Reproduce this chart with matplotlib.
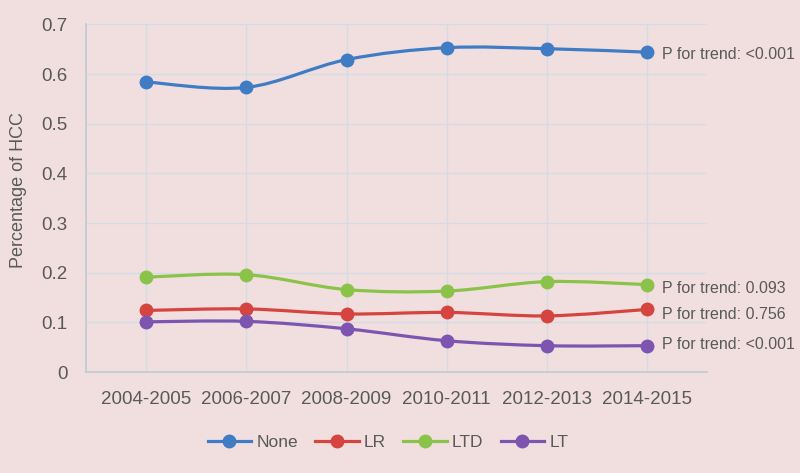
import numpy as np
import matplotlib.pyplot as plt
from matplotlib.path import Path
from matplotlib.patches import PathPatch
from matplotlib.lines import Line2D

plt.rcParams['font.family'] = ['Liberation Sans', 'DejaVu Sans']

periods = ['2004-2005', '2006-2007', '2008-2009', '2010-2011', '2012-2013', '2014-2015']
none_vals = [0.584, 0.573, 0.629, 0.653, 0.651, 0.644]
lr_vals = [0.124, 0.127, 0.117, 0.120, 0.113, 0.126]
ltd_vals = [0.191, 0.196, 0.166, 0.163, 0.182, 0.176]
lt_vals = [0.101, 0.102, 0.087, 0.063, 0.053, 0.053]
series_names = ['None', 'LR', 'LTD', 'LT']
p_trend = ['P for trend: <0.001', 'P for trend: 0.756', 'P for trend: 0.093', 'P for trend: <0.001']

colors = ['#3f7cc4', '#d5443f', '#8bc34a', '#7d55b0']
bg = '#f1dfe0'
grid_c = '#d3dbe3'
text_c = '#595959'


def smooth_path(xs, ys):
    # Excel-like smoothed line: cubic bezier through the points
    pts = np.column_stack([xs, ys]).astype(float)
    ext = np.vstack([pts[0], pts, pts[-1]])
    verts = [pts[0]]
    codes = [Path.MOVETO]
    for i in range(len(pts) - 1):
        p0, p1, p2, p3 = ext[i], ext[i + 1], ext[i + 2], ext[i + 3]
        verts += [p1 + (p2 - p0) / 6, p2 - (p3 - p1) / 6, p2]
        codes += [Path.CURVE4] * 3
    return Path(verts, codes)


fig = plt.figure(figsize=(8, 4.73), dpi=100, facecolor=bg)
ax = fig.add_axes([0.1075, 0.2135, 0.7765, 0.735])
ax.set_facecolor(bg)

x = np.arange(len(periods))
all_vals = [none_vals, lr_vals, ltd_vals, lt_vals]
offsets = [-2, -4, -3, 1]
handles = []
for vals, name, c, pt, dy in zip(all_vals, series_names, colors, p_trend, offsets):
    ax.add_patch(PathPatch(smooth_path(x, vals), fill=False, edgecolor=c, lw=2.3, zorder=3))
    ax.plot(x, vals, 'o', color=c, ms=9, zorder=4)
    ax.annotate(pt, (x[-1], vals[-1]), xytext=(11, dy), textcoords='offset points',
                va='center', ha='left', fontsize=11.5, color=text_c, annotation_clip=False)
    handles.append(Line2D([], [], color=c, lw=2.3, marker='o', ms=9, label=name))

ax.set_xlim(-0.6, 5.6)
ax.set_ylim(0, 0.7)
ax.set_xticks(x)
ax.set_xticklabels(periods)
ax.set_yticks(np.arange(0, 0.71, 0.1))
ax.set_yticklabels(['0', '0.1', '0.2', '0.3', '0.4', '0.5', '0.6', '0.7'])
ax.tick_params(length=0, labelsize=13.5, colors=text_c)
ax.tick_params(axis='x', pad=14)
ax.tick_params(axis='y', pad=13.5)
ax.grid(True, color=grid_c, lw=1)
ax.set_axisbelow(True)
for s in ['top', 'right']:
    ax.spines[s].set_visible(False)
for s in ['left', 'bottom']:
    ax.spines[s].set_color('#c3ccd6')
    ax.spines[s].set_linewidth(1.3)

fig.text(19 / 800, 1 - 190 / 473, 'Percentage of HCC', rotation=90, ha='center', va='center',
         fontsize=13, color=text_c)

fig.legend(handles=handles, loc='center', bbox_to_anchor=(0.485, 0.064), ncol=4,
           frameon=False, fontsize=12.5, handlelength=2.5, handletextpad=0.3,
           columnspacing=1.0, labelcolor=text_c)

fig.savefig('out.png', dpi=100, facecolor=bg)
